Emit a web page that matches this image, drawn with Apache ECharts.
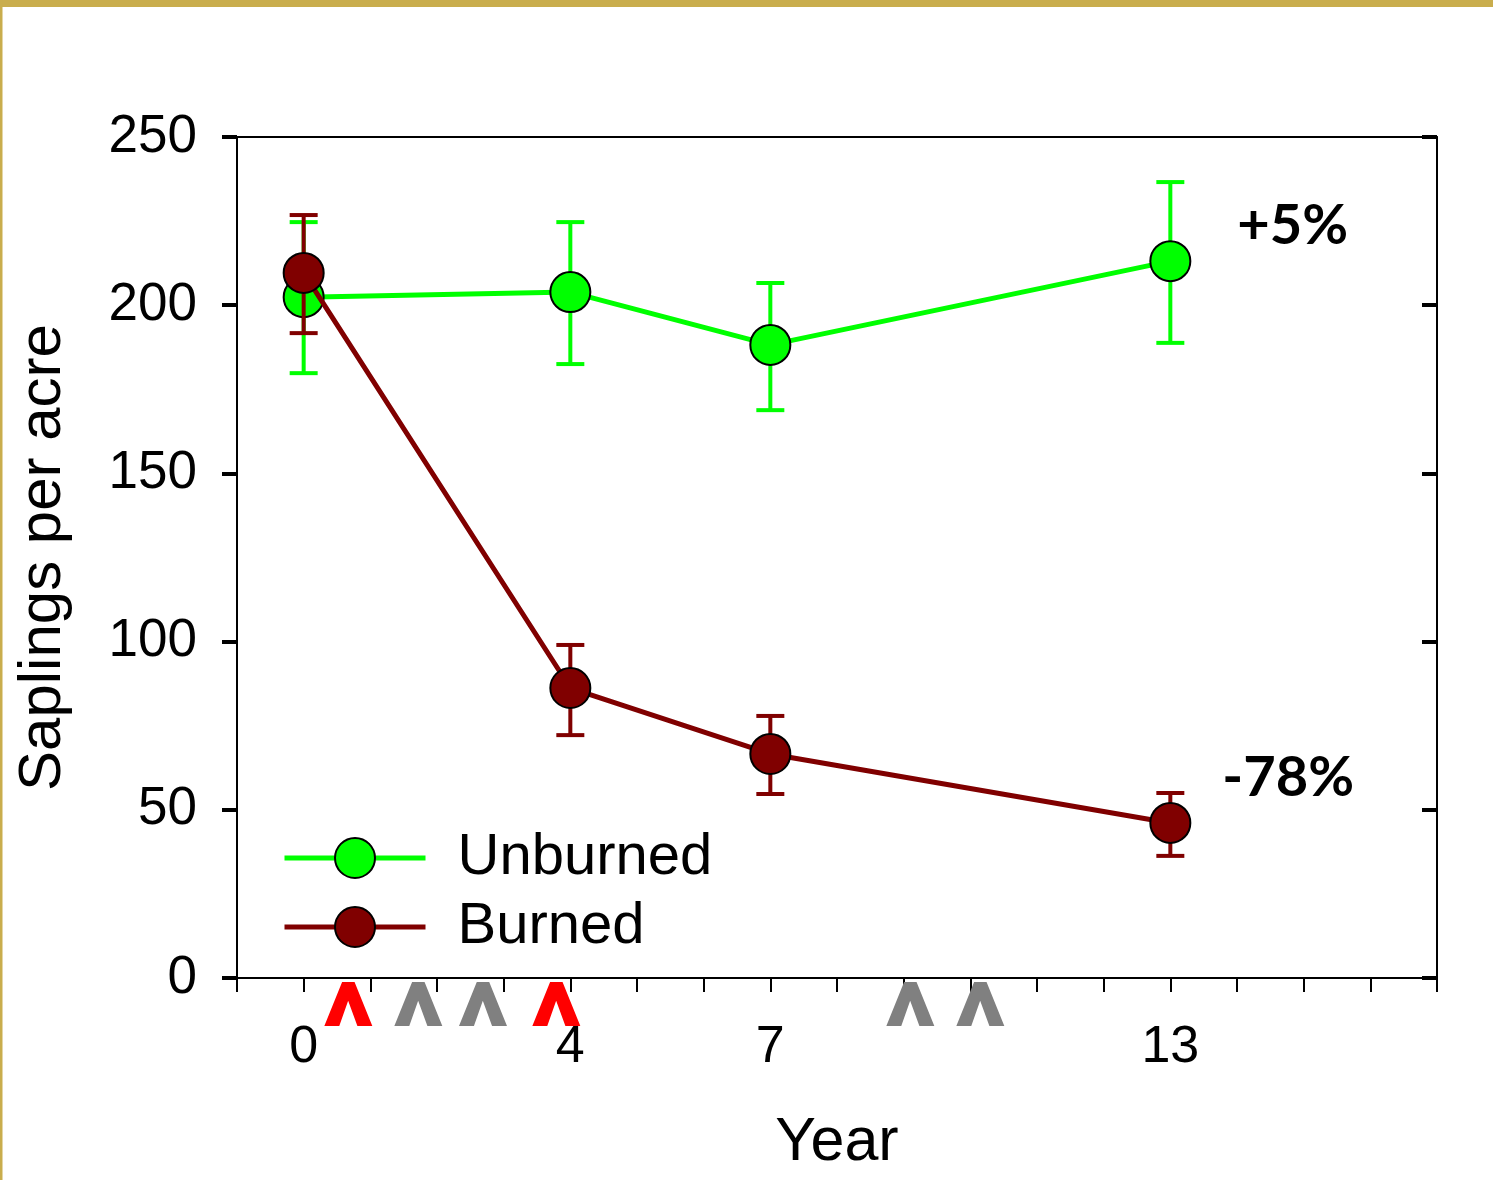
<!DOCTYPE html>
<html>
<head>
<meta charset="utf-8">
<script src="https://cdn.jsdelivr.net/npm/echarts@6/dist/echarts.min.js"></script>
<style>
  html, body { margin: 0; padding: 0; background: #ffffff; }
  #chart { width: 1493px; height: 1180px; }
</style>
</head>
<body>
<div id="chart"></div>
<script>
// Sampling years and sapling densities (saplings per acre) with error bar limits
const years = [0, 4, 7, 13];
const unburnedMean = [202.4, 203.9, 188.2, 213.1];
const unburnedLow = [179.8, 182.5, 168.8, 188.8];
const unburnedHigh = [224.7, 224.7, 206.6, 236.6];
const burnedMean = [209.6, 86.2, 66.6, 46.1];
const burnedLow = [191.7, 72.2, 54.7, 36.3];
const burnedHigh = [226.8, 99.0, 77.9, 55.0];

// Fire events marked under the year axis
const fireYears = [0.67, 1.72, 2.69, 3.79, 9.1, 10.15];
const fireColors = ['#ff0000', '#808080', '#808080', '#ff0000', '#808080', '#808080'];

// Axis tick labels
const xTickLabels = [0, 4, 7, 13];
const yTickLabels = [0, 50, 100, 150, 200, 250];

const GREEN = '#00ff00';
const MAROON = '#800000';
const FONT = '"Liberation Sans", Arial, sans-serif';
const caretPath = 'path://M0,122L50,0L85,0L135,122L93,122L67,52L42,122Z';

function errorBars(color) {
  return function (params, api) {
    const x = api.value(0);
    const lo = api.coord([x, api.value(1)]);
    const hi = api.coord([x, api.value(2)]);
    const w = 14;
    const style = { stroke: color, lineWidth: 4 };
    return {
      type: 'group',
      children: [
        { type: 'line', shape: { x1: lo[0], y1: lo[1], x2: hi[0], y2: hi[1] }, style: style },
        { type: 'line', shape: { x1: lo[0] - w, y1: lo[1], x2: lo[0] + w, y2: lo[1] }, style: style },
        { type: 'line', shape: { x1: hi[0] - w, y1: hi[1], x2: hi[0] + w, y2: hi[1] }, style: style }
      ]
    };
  };
}

function pct(arr) {
  const v = Math.round((arr[arr.length - 1] / arr[0] - 1) * 100);
  return (v > 0 ? '+' : '') + v + '%';
}

const chart = echarts.init(document.getElementById('chart'), null, { renderer: 'canvas' });

const option = {
  backgroundColor: '#ffffff',
  animation: false,
  grid: { left: 237, right: 56, top: 137, bottom: 202, containLabel: false },
  legend: {
    orient: 'vertical',
    left: 277,
    top: 824,
    itemWidth: 141,
    itemHeight: 50,
    itemGap: 11,
    data: ['Unburned', 'Burned'],
    lineStyle: { width: 5 },
    textStyle: { fontFamily: FONT, fontSize: 58, color: '#000', padding: [0, 0, 0, 27] }
  },
  xAxis: [
    {
      type: 'value',
      position: 'bottom',
      min: -1,
      max: 17,
      interval: 1,
      name: 'Year',
      nameLocation: 'middle',
      nameGap: 135,
      nameTextStyle: { fontFamily: FONT, fontSize: 61, color: '#000' },
      axisLine: { show: true, onZero: false, lineStyle: { color: '#000', width: 2 } },
      axisTick: { show: true, inside: false, length: 14, lineStyle: { color: '#000', width: 2 } },
      axisLabel: {
        show: true,
        margin: 44,
        fontFamily: FONT,
        fontSize: 52,
        color: '#000',
        formatter: function (v) { return xTickLabels.indexOf(v) >= 0 ? String(v) : ''; }
      },
      splitLine: { show: false }
    },
    {
      type: 'value',
      position: 'top',
      min: -1,
      max: 17,
      interval: 1,
      axisLine: { show: true, onZero: false, lineStyle: { color: '#000', width: 2 } },
      axisTick: { show: false },
      axisLabel: { show: false },
      splitLine: { show: false }
    }
  ],
  yAxis: [
    {
      type: 'value',
      position: 'left',
      min: 0,
      max: 250,
      interval: 50,
      name: 'Saplings per acre',
      nameLocation: 'middle',
      nameGap: 164,
      nameRotate: 90,
      nameTextStyle: { fontFamily: FONT, fontSize: 60, color: '#000' },
      axisLine: { show: true, onZero: false, lineStyle: { color: '#000', width: 2 } },
      axisTick: { show: true, inside: false, length: 15, lineStyle: { color: '#000', width: 4 } },
      axisLabel: {
        show: true,
        margin: 40,
        fontFamily: FONT,
        fontSize: 53,
        color: '#000',
        formatter: function (v) { return yTickLabels.indexOf(v) >= 0 ? String(v) : ''; }
      },
      splitLine: { show: false }
    },
    {
      type: 'value',
      position: 'right',
      min: 0,
      max: 250,
      interval: 50,
      axisLine: { show: true, onZero: false, lineStyle: { color: '#000', width: 2 } },
      axisTick: { show: true, inside: true, length: 15, lineStyle: { color: '#000', width: 4 } },
      axisLabel: { show: false },
      splitLine: { show: false }
    }
  ],
  series: [
    {
      name: 'Unburned err',
      type: 'custom',
      z: 2,
      renderItem: errorBars(GREEN),
      encode: { x: 0, y: [1, 2] },
      data: years.map((y, i) => [y, unburnedLow[i], unburnedHigh[i]]),
      silent: true
    },
    {
      name: 'Unburned',
      type: 'line',
      z: 3,
      data: years.map((y, i) => [y, unburnedMean[i]]),
      symbol: 'circle',
      symbolSize: 40,
      lineStyle: { color: GREEN, width: 5 },
      itemStyle: { color: GREEN, borderColor: '#000', borderWidth: 2 }
    },
    {
      name: 'Burned err',
      type: 'custom',
      z: 4,
      renderItem: errorBars(MAROON),
      encode: { x: 0, y: [1, 2] },
      data: years.map((y, i) => [y, burnedLow[i], burnedHigh[i]]),
      silent: true
    },
    {
      name: 'Burned',
      type: 'line',
      z: 5,
      data: years.map((y, i) => [y, burnedMean[i]]),
      symbol: 'circle',
      symbolSize: 40,
      lineStyle: { color: MAROON, width: 5 },
      itemStyle: { color: MAROON, borderColor: '#000', borderWidth: 2 }
    },
    {
      name: 'Fires',
      type: 'scatter',
      z: 6,
      clip: false,
      silent: true,
      symbol: caretPath,
      symbolSize: [48, 44],
      symbolOffset: [0, 26],
      itemStyle: { opacity: 1 },
      data: fireYears.map((y, i) => ({ value: [y, 0], itemStyle: { color: fireColors[i], opacity: 1 } }))
    }
  ]
};

chart.setOption(option);

// Percentage change labels beside the final year
const pU = chart.convertToPixel({ xAxisIndex: 0, yAxisIndex: 0 }, [years[3], unburnedMean[3]]);
const pB = chart.convertToPixel({ xAxisIndex: 0, yAxisIndex: 0 }, [years[3], burnedMean[3]]);
const pctFont = { fontFamily: 'Lato, "Open Sans", sans-serif', fontWeight: 'bold', fontSize: 56, fill: '#000',
  textAlign: 'left', textVerticalAlign: 'middle' };

chart.setOption({
  graphic: [
    { type: 'rect', left: 0, top: 0, shape: { width: 1493, height: 7 }, style: { fill: '#c9ad4d' }, z: 10 },
    { type: 'rect', left: 0, top: 0, shape: { width: 2.5, height: 1180 }, style: { fill: '#c9ad4d' }, z: 10 },
    { type: 'text', x: pU[0] + 67, y: pU[1] - 35, style: Object.assign({ text: pct(unburnedMean) }, pctFont), z: 10 },
    { type: 'text', x: pB[0] + 52, y: pB[1] - 45, style: Object.assign({ text: pct(burnedMean) }, pctFont), z: 10 }
  ]
});
</script>
</body>
</html>
